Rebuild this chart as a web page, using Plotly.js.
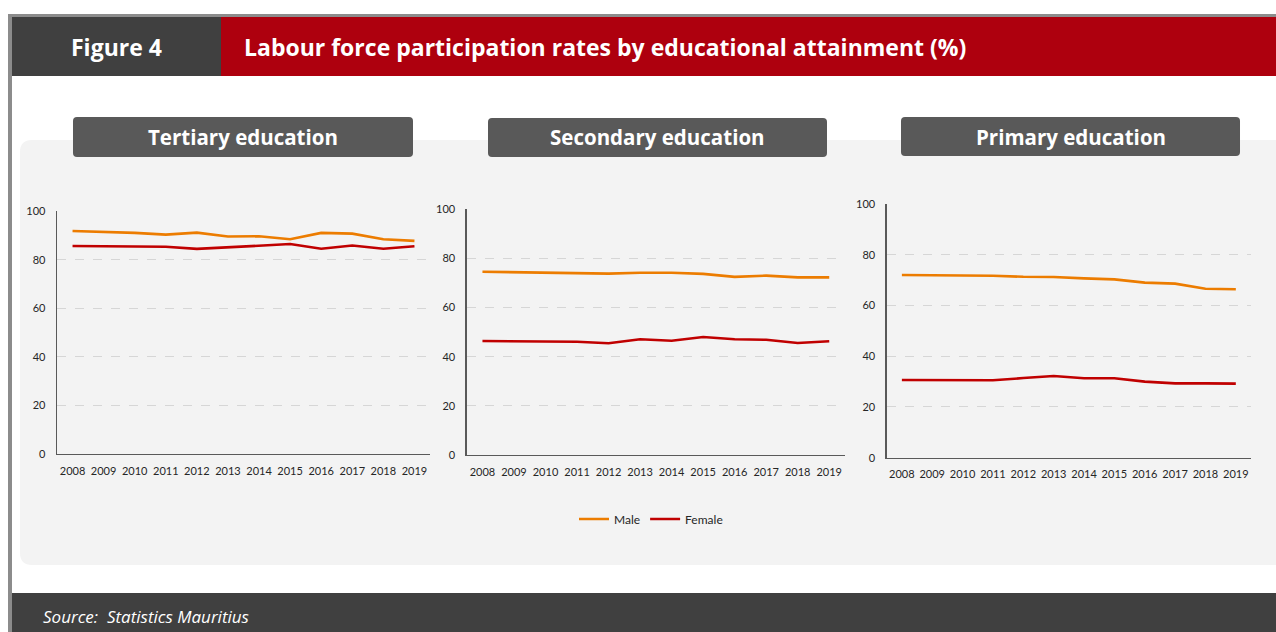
<!DOCTYPE html>
<html>
<head>
<meta charset="utf-8">
<script src="https://cdn.plot.ly/plotly-3.0.1.min.js"></script>
<style>
html,body{margin:0;padding:0;background:#fff;}
#chart{width:1276px;height:632px;}
</style>
</head>
<body>
<div id="chart"></div>
<script>
// ---- data ----
const years = ["2008","2009","2010","2011","2012","2013","2014","2015","2016","2017","2018","2019"];
const yTicks = [0, 20, 40, 60, 80, 100];
const seriesNames = ["Male", "Female"];
const panelTitles = ["Tertiary education", "Secondary education", "Primary education"];

const tertiaryMale   = [91.9, 91.6, 91.1, 90.4, 91.2, 89.6, 89.7, 88.5, 91.1, 90.8, 88.5, 87.8];
const tertiaryFemale = [85.7, 85.7, 85.6, 85.4, 84.5, 85.2, 85.9, 86.5, 84.6, 85.9, 84.6, 85.6];
const secondaryMale   = [74.6, 74.4, 74.1, 73.8, 73.8, 74.2, 74.2, 73.7, 72.5, 73.0, 72.3, 72.3];
const secondaryFemale = [46.4, 46.4, 46.3, 46.1, 45.5, 47.1, 46.5, 48.0, 47.1, 46.9, 45.6, 46.3];
const primaryMale   = [72.0, 71.9, 71.9, 71.7, 71.3, 71.2, 70.7, 70.3, 69.0, 68.6, 66.6, 66.4];
const primaryFemale = [30.6, 30.6, 30.5, 30.5, 31.4, 32.2, 31.3, 31.3, 30.0, 29.3, 29.3, 29.2];

const figureLabel = "Figure 4";
const mainTitle = "Labour force participation rates by educational attainment (%)";
const sourceText = "Source:  Statistics Mauritius";

// ---- layout helpers ----
const W = 1276, H = 632;
const FONT = "Lato, 'Open Sans', sans-serif";
const HFONT = "'Open Sans', Lato, sans-serif";
const X = v => v / W;
const Y = v => 1 - v / H;
function rr(x0, y0, x1, y1, r) {
  const a = v => (v / W).toFixed(5), b = v => (1 - v / H).toFixed(5);
  return `M${a(x0+r)},${b(y0)} L${a(x1-r)},${b(y0)} Q${a(x1)},${b(y0)} ${a(x1)},${b(y0+r)} ` +
         `L${a(x1)},${b(y1-r)} Q${a(x1)},${b(y1)} ${a(x1-r)},${b(y1)} L${a(x0+r)},${b(y1)} ` +
         `Q${a(x0)},${b(y1)} ${a(x0)},${b(y1-r)} L${a(x0)},${b(y0+r)} Q${a(x0)},${b(y0)} ${a(x0+r)},${b(y0)} Z`;
}

const colors = ["#EC7C00", "#C00000"];
const panels = [
  {male: tertiaryMale,  female: tertiaryFemale,  x0: 57,    x1: 430,  yTop: 211.3, yBot: 454,   box: [73, 117, 413, 157]},
  {male: secondaryMale, female: secondaryFemale, x0: 466.7, x1: 845,  yTop: 209.3, yBot: 455,   box: [488, 118, 827, 157]},
  {male: primaryMale,   female: primaryFemale,   x0: 886.7, x1: 1251, yTop: 204,   yBot: 457.7, box: [901, 117, 1240, 156]}
];

const data = [];
const layout = {
  width: W, height: H,
  margin: {l: 0, r: 0, t: 0, b: 0},
  paper_bgcolor: "#ffffff",
  plot_bgcolor: "rgba(0,0,0,0)",
  font: {family: FONT, color: "#404040", size: 11},
  showlegend: true,
  legend: {
    orientation: "h", x: X(651), xanchor: "center", y: Y(519), yanchor: "middle",
    bgcolor: "rgba(0,0,0,0)", font: {family: FONT, size: 12, color: "#262626"},
    itemwidth: 30, tracegroupgap: 0
  },
  shapes: [],
  annotations: []
};

// background shapes
layout.shapes.push({type: "rect", xref: "paper", yref: "paper", x0: X(8), x1: 1, y0: Y(17), y1: Y(14), fillcolor: "#8c8c8c", line: {width: 0}, layer: "below"});
layout.shapes.push({type: "rect", xref: "paper", yref: "paper", x0: X(8), x1: X(12), y0: 0, y1: Y(14), fillcolor: "#8c8c8c", line: {width: 0}, layer: "below"});
layout.shapes.push({type: "rect", xref: "paper", yref: "paper", x0: X(12), x1: X(221), y0: Y(76), y1: Y(17), fillcolor: "#404040", line: {width: 0}, layer: "below"});
layout.shapes.push({type: "rect", xref: "paper", yref: "paper", x0: X(221), x1: 1, y0: Y(76), y1: Y(17), fillcolor: "#AE000E", line: {width: 0}, layer: "below"});
layout.shapes.push({type: "path", xref: "paper", yref: "paper", path: rr(20, 140, 1290, 565, 12), fillcolor: "#f3f3f3", line: {width: 0}, layer: "below"});
layout.shapes.push({type: "rect", xref: "paper", yref: "paper", x0: X(12), x1: 1, y0: 0, y1: Y(593), fillcolor: "#404040", line: {width: 0}, layer: "below"});

layout.annotations.push({xref: "paper", yref: "paper", x: X(116), y: Y(47), xanchor: "center", yanchor: "middle", showarrow: false,
  text: "<b>" + figureLabel + "</b>", font: {family: HFONT, size: 23, color: "#ffffff"}});
layout.annotations.push({xref: "paper", yref: "paper", x: X(242), y: Y(47), xanchor: "left", yanchor: "middle", showarrow: false,
  text: "<b>" + mainTitle + "</b>", font: {family: HFONT, size: 23, color: "#ffffff"}});
layout.annotations.push({xref: "paper", yref: "paper", x: X(41), y: Y(616), xanchor: "left", yanchor: "middle", showarrow: false,
  text: "<i>" + sourceText + "</i>", font: {family: HFONT, size: 17, color: "#ffffff"}});

panels.forEach((p, i) => {
  const n = i + 1;
  const xa = "xaxis" + (n === 1 ? "" : n), ya = "yaxis" + (n === 1 ? "" : n);
  const xr = "x" + (n === 1 ? "" : n), yr = "y" + (n === 1 ? "" : n);
  [p.male, p.female].forEach((vals, k) => {
    data.push({
      type: "scatter", mode: "lines", x: years, y: vals, xaxis: xr, yaxis: yr,
      name: seriesNames[k], legendgroup: seriesNames[k], showlegend: i === 0,
      line: {color: colors[k], width: 2.6}, hoverinfo: "skip"
    });
  });
  layout[xa] = {
    type: "category", domain: [X(p.x0), X(p.x1)], range: [-0.5, 11.5], anchor: yr,
    showgrid: false, zeroline: false, showline: true, linecolor: "#595959", linewidth: 1.3,
    ticks: "", ticklabelstandoff: 6, tickfont: {family: FONT, size: 11, color: "#262626"}, fixedrange: true
  };
  layout[ya] = {
    domain: [Y(p.yBot), Y(p.yTop)], range: [0, 100], anchor: xr, tickvals: yTicks,
    showgrid: true, gridcolor: "#d6d6d6", griddash: "dash", gridwidth: 1, zeroline: false,
    showline: true, linecolor: "#595959", linewidth: 1.3,
    ticks: "", ticklabelstandoff: 8, tickfont: {family: FONT, size: 11, color: "#262626"}, fixedrange: true
  };
  const b = p.box;
  layout.shapes.push({type: "path", xref: "paper", yref: "paper", path: rr(b[0], b[1], b[2], b[3], 4), fillcolor: "#595959", line: {width: 0}});
  layout.annotations.push({xref: "paper", yref: "paper", x: X((b[0] + b[2]) / 2), y: Y((b[1] + b[3]) / 2), xanchor: "center", yanchor: "middle",
    showarrow: false, text: "<b>" + panelTitles[i] + "</b>", font: {family: HFONT, size: 20.5, color: "#ffffff"}});
});

Plotly.newPlot("chart", data, layout, {displayModeBar: false, staticPlot: true});
</script>
</body>
</html>
